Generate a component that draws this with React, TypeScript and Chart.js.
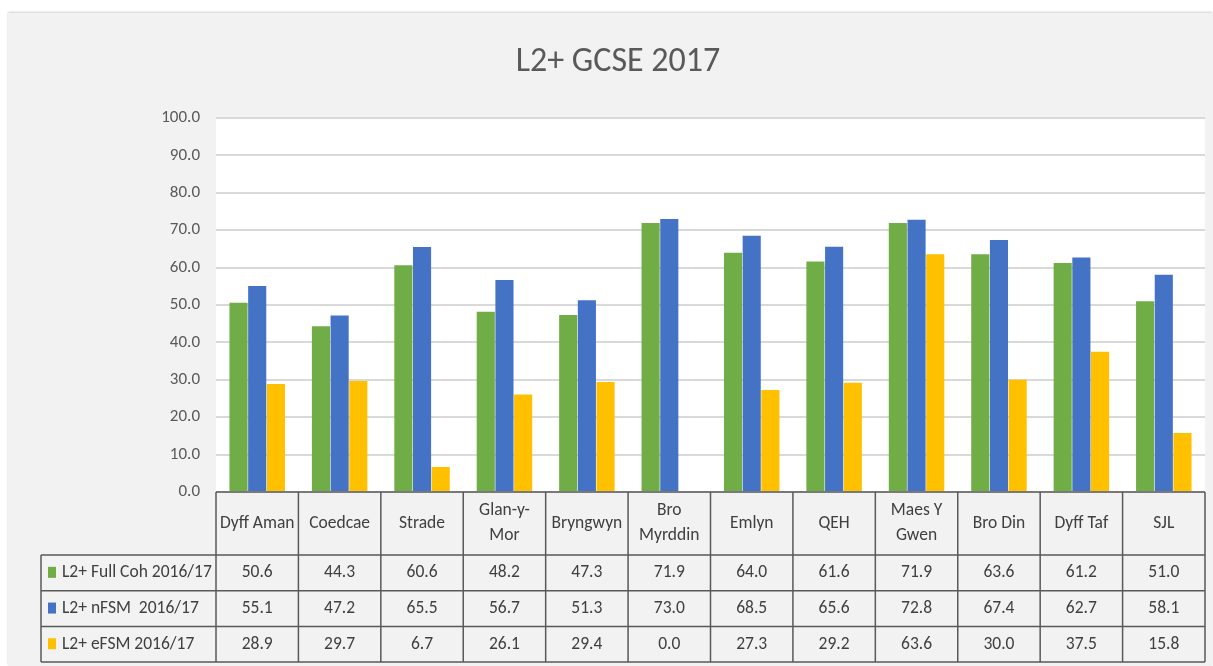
import React, { useEffect, useRef } from "react";
import { Chart, registerables } from "chart.js";

Chart.register(...registerables);

const TITLE = "L2+ GCSE 2017";
const categories: (string | string[])[] = [
  "Dyff Aman", "Coedcae", "Strade", ["Glan-y-", "Mor"], "Bryngwyn", ["Bro", "Myrddin"],
  "Emlyn", "QEH", ["Maes Y", "Gwen"], "Bro Din", "Dyff Taf", "SJL",
];
const seriesNames = ["L2+ Full Coh 2016/17", "L2+ nFSM  2016/17", "L2+ eFSM 2016/17"];
const fullCoh = [50.6, 44.3, 60.6, 48.2, 47.3, 71.9, 64.0, 61.6, 71.9, 63.6, 61.2, 51.0];
const nFSM = [55.1, 47.2, 65.5, 56.7, 51.3, 73.0, 68.5, 65.6, 72.8, 67.4, 62.7, 58.1];
const eFSM = [28.9, 29.7, 6.7, 26.1, 29.4, 0.0, 27.3, 29.2, 63.6, 30.0, 37.5, 15.8];
const colors = ["#70ad47", "#4472c4", "#ffc000"];
const yTicks = [0, 10, 20, 30, 40, 50, 60, 70, 80, 90, 100];

const FONT = "Carlito, Calibri, 'Liberation Sans Narrow', 'Open Sans', sans-serif";
const W = 1204;
const H = 653;

export default function App() {
  const ref = useRef<HTMLCanvasElement | null>(null);
  useEffect(() => {
    if (!ref.current) return;
    const series = [fullCoh, nFSM, eFSM];
    const tablePlugin = {
      id: "tablePlugin",
      beforeDraw(chart: any) {
        const ctx = chart.ctx;
        const ca = chart.chartArea;
        ctx.save();
        ctx.fillStyle = "#f2f2f2";
        ctx.fillRect(0, 0, chart.width, chart.height);
        ctx.fillStyle = "#ffffff";
        ctx.fillRect(ca.left, ca.top, ca.right - ca.left, ca.bottom - ca.top);
        ctx.restore();
      },
      afterDraw(chart: any) {
        const ctx = chart.ctx;
        const ca = chart.chartArea;
        const n = categories.length;
        const colW = (ca.right - ca.left) / n;
        const headerBottom = ca.bottom + 63;
        const rowH = 35.7;
        const labelLeft = 33;
        const tableBottom = headerBottom + rowH * 3;
        ctx.save();
        // title
        ctx.fillStyle = "#595959";
        ctx.font = `34px ${FONT}`;
        ctx.textAlign = "center";
        ctx.textBaseline = "middle";
        ctx.fillText(TITLE, (W) / 2 + 8, 49);
        // lines
        ctx.strokeStyle = "#595959";
        ctx.lineWidth = 1.5;
        ctx.beginPath();
        ctx.moveTo(ca.left, ca.bottom);
        ctx.lineTo(ca.right, ca.bottom);
        for (let r = 0; r <= 3; r++) {
          const y = headerBottom + r * rowH;
          ctx.moveTo(labelLeft, y);
          ctx.lineTo(ca.right, y);
        }
        for (let i = 0; i <= n; i++) {
          const x = ca.left + i * colW;
          ctx.moveTo(x, ca.bottom);
          ctx.lineTo(x, tableBottom);
        }
        ctx.moveTo(labelLeft, headerBottom);
        ctx.lineTo(labelLeft, tableBottom);
        ctx.stroke();
        // header text
        ctx.fillStyle = "#404040";
        ctx.font = `17.5px ${FONT}`;
        ctx.textAlign = "center";
        ctx.textBaseline = "middle";
        const hMid = (ca.bottom + headerBottom) / 2;
        categories.forEach((c, i) => {
          const cx = ca.left + (i + 0.5) * colW;
          if (Array.isArray(c)) {
            ctx.fillText(c[0], cx, hMid - 12.5);
            ctx.fillText(c[1], cx, hMid + 12.5);
          } else {
            ctx.fillText(c, cx, hMid);
          }
        });
        // rows
        series.forEach((vals, r) => {
          const cy = headerBottom + (r + 0.5) * rowH;
          ctx.fillStyle = colors[r];
          ctx.fillRect(labelLeft + 7, cy - 6, 8, 11);
          ctx.fillStyle = "#404040";
          ctx.textAlign = "left";
          ctx.fillText(seriesNames[r], labelLeft + 21, cy);
          ctx.textAlign = "center";
          vals.forEach((v, i) => {
            const cx = ca.left + (i + 0.5) * colW;
            ctx.fillText(v.toFixed(1), cx, cy);
          });
        });
        ctx.restore();
      },
    };
    const chart = new Chart(ref.current, {
      type: "bar",
      data: {
        labels: categories as any,
        datasets: series.map((vals, i) => ({
          label: seriesNames[i],
          data: vals,
          backgroundColor: colors[i],
          borderWidth: 0,
          categoryPercentage: 0.68,
          barPercentage: 0.97,
        })),
      },
      options: {
        responsive: false,
        animation: false,
        devicePixelRatio: 1,
        layout: { padding: { left: 108, right: 7, top: 105, bottom: 174 } },
        plugins: { legend: { display: false }, title: { display: false }, tooltip: { enabled: false } },
        scales: {
          x: { display: false },
          y: {
            min: 0,
            max: 100,
            afterFit: (axis: any) => { axis.width = 100; },
            afterBuildTicks: (axis: any) => { axis.ticks = yTicks.map((v) => ({ value: v })); },
            ticks: {
              padding: 16,
              color: "#595959",
              font: { family: FONT, size: 17 },
              callback: (v: any) => Number(v).toFixed(1),
            },
            grid: { color: "#d9d9d9", lineWidth: 2, drawTicks: false },
            border: { display: false },
          },
        },
      },
      plugins: [tablePlugin],
    });
    return () => chart.destroy();
  }, []);
  return (
    <div style={{ position: "fixed", left: 0, top: 0, width: 1213, height: 666, background: "#ffffff", overflow: "hidden" }}>
      <canvas
        ref={ref}
        width={W}
        height={H}
        style={{ position: "absolute", left: 8, top: 13, width: W, height: H, boxShadow: "0 -1px 2px #d0d0d0" }}
      />
    </div>
  );
}
